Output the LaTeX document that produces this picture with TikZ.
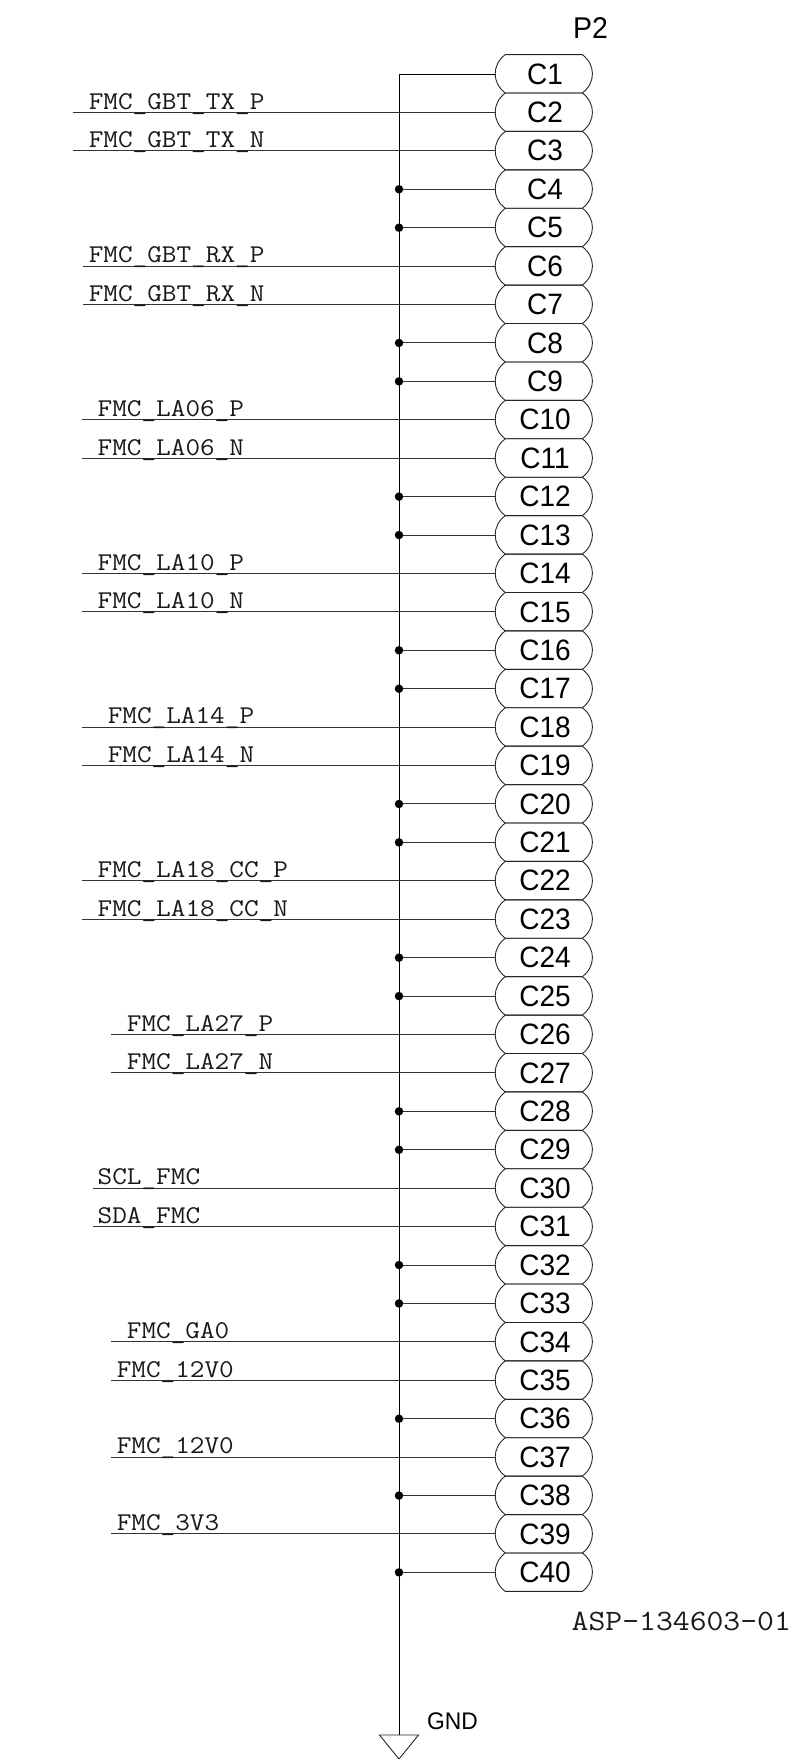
\documentclass[tikz,border=0pt]{standalone}
\usepackage{fontspec}
\setmainfont[FakeStretch=0.95]{Liberation Sans}
\setmonofont[FakeStretch=1.11]{Latin Modern Mono}
\tikzset{
    pinbox/.style={inner sep=0, minimum width=96pt, minimum height=38.42pt, font=\fontsize{29.5}{29.5}\selectfont},
    pinline/.style={line width=0.9pt, black!85},
    wire/.style={line width=1pt, black!80},
    netlabel/.style={inner sep=0, anchor=base west, text=black!90, font=\ttfamily\fontsize{25.6}{25.6}\selectfont},
    junction/.style={circle, fill=black, inner sep=0, minimum size=8.5pt}
}
\begin{document}
\begin{tikzpicture}[x=1pt, y=-1pt]
    \useasboundingbox (0,0) rectangle (796,1759);

    % Connector pins
    \foreach \n in {1,...,40} {
        \node[pinbox] (C\n) at (544, {74+(\n-1)*38.42}) {\hspace{2pt}\raisebox{-0.8pt}{C\n}};
        \draw[pinline] (C\n.north west) ++(9.5,0) -- ++(77,0)
            .. controls +(13.5,10) and +(13.5,-10) .. ++(0,38.42) -- ++(-77,0)
            .. controls +(-13.5,-10) and +(-13.5,10) .. ++(0,-38.42) -- cycle;
        \coordinate (bus\n) at (399, {74+(\n-1)*38.42});
    }

    % Ground bus
    \coordinate (gndtop) at (399,1735);
    \draw[wire, black] (C1.west) -- (bus1) -- (gndtop);
    \foreach \n in {4,5,8,9,12,13,16,17,20,21,24,25,28,29,32,33,36,38,40} {
        \node[junction] (dot\n) at (bus\n) {};
        \draw[wire] (dot\n) -- (C\n.west);
    }

    % Signals
    \foreach \n/\wx/\lx/\lab in {
        2/73/88.6/FMC\_GBT\_TX\_P, 3/73/88.6/FMC\_GBT\_TX\_N,
        6/83/88.6/FMC\_GBT\_RX\_P, 7/83/88.6/FMC\_GBT\_RX\_N,
        10/82/97.5/FMC\_LA06\_P, 11/82/97.5/FMC\_LA06\_N,
        14/82/97.5/FMC\_LA10\_P, 15/82/97.5/FMC\_LA10\_N,
        18/82/107.6/FMC\_LA14\_P, 19/82/107.6/FMC\_LA14\_N,
        22/82/97.5/FMC\_LA18\_CC\_P, 23/82/97.5/FMC\_LA18\_CC\_N,
        26/111/126.7/FMC\_LA27\_P, 27/111/126.7/FMC\_LA27\_N,
        30/93/97.5/SCL\_FMC, 31/93/97.5/SDA\_FMC,
        34/111/126.7/FMC\_GA0, 35/111/116.6/FMC\_12V0,
        37/111/116.6/FMC\_12V0, 39/111/116.6/FMC\_3V3} {
        \coordinate (sig\n) at (\wx, {74+(\n-1)*38.42});
        \draw[wire] (sig\n) -- (C\n.west);
        \node[netlabel] (lab\n) at (\lx, {74+(\n-1)*38.42-3.2}) {\lab};
    }

    % Ground symbol
    \draw[pinline] (gndtop) ++(-19.5,0) -- ++(39,0) -- ++(-19.5,24) -- cycle;
    \node[inner sep=0, anchor=base west, font=\fontsize{24}{24}\selectfont] (gnd) at (427,1729) {GND};

    % Part name and number
    \node[inner sep=0, anchor=base west, font=\fontsize{30}{30}\selectfont] (part) at (573,38) {P2};
    \node[inner sep=0, anchor=base west, text=black!90, font=\ttfamily\fontsize{29.5}{29.5}\selectfont] (number) at (571.5,1630) {ASP-134603-01};

\end{tikzpicture}
\end{document}
